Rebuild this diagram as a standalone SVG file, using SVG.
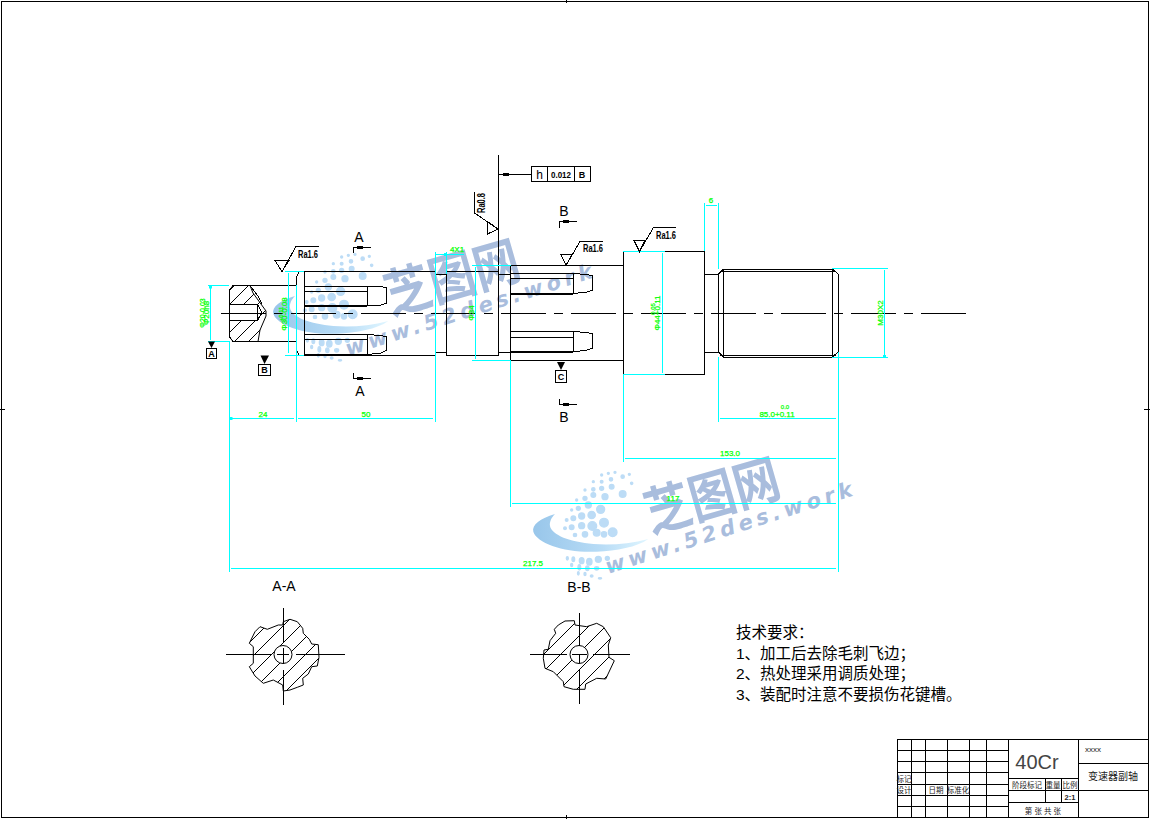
<svg xmlns="http://www.w3.org/2000/svg" width="1150" height="819" viewBox="0 0 1150 819">
<style>
.k{fill:none;stroke:#000;stroke-width:1;shape-rendering:crispEdges}
.t{fill:none;stroke:#000;stroke-width:2;shape-rendering:crispEdges}
.c{fill:none;stroke:#00ffff;stroke-width:1;shape-rendering:crispEdges}
.d{fill:none;stroke:#00ffff;stroke-width:1;shape-rendering:crispEdges;marker-start:url(#tick);marker-end:url(#tick)}
.f{fill:#000;stroke:none}
text{font-family:"Liberation Sans","Noto Sans CJK SC",sans-serif}
.g{fill:#00ff00;font-size:8px;text-anchor:middle;stroke:#00ff00;stroke-width:.25}
.ra{fill:#000;font-size:10px;font-weight:bold}
.s{fill:#000;font-size:14px;text-anchor:middle}
.b{fill:#000;font-size:9px;font-weight:bold;text-anchor:middle}
.cn{fill:#000;font-size:15.5px;font-family:"Noto Sans CJK SC","Liberation Sans",sans-serif}
.tb{fill:#222;font-size:7.5px;text-anchor:middle;font-family:"Noto Sans CJK SC","Liberation Sans",sans-serif}
.wm{fill:#a9bddd;font-family:"Noto Sans CJK SC",sans-serif;font-weight:bold;font-size:46px}
.wu{fill:#a9bddd;font-family:"DejaVu Sans",sans-serif;font-weight:bold;font-size:21px;font-style:italic}
</style>
<defs>
<marker id="tick" markerUnits="userSpaceOnUse" markerWidth="3" markerHeight="3" refX="1.5" refY="1.5"><rect width="3" height="3" fill="#00ffff"/></marker>
<pattern id="h1" patternUnits="userSpaceOnUse" width="14" height="14" patternTransform="translate(2 0)"><path d="M-1 15L15 -1M-8 8L8 -8M6 22L22 6" stroke="#000" stroke-width="1" fill="none" shape-rendering="crispEdges"/></pattern>
<pattern id="h2" patternUnits="userSpaceOnUse" width="17" height="17" patternTransform="translate(8 0)"><path d="M-1 18L18 -1M-8 8L8 -8M9 25L25 9" stroke="#000" stroke-width="1" fill="none" shape-rendering="crispEdges"/></pattern>
<linearGradient id="sw" x1="0" x2="1" y1="0" y2="0"><stop offset="0" stop-color="#98c6ea"/><stop offset=".6" stop-color="#b8dcf6"/><stop offset="1" stop-color="#e0f6ff"/></linearGradient>
<g id="logo" transform="translate(530 440) scale(.3333)">
<path d="M75 222C30 235 5 255 10 275C20 310 110 340 200 335C260 332 320 322 355 297C300 312 240 316 190 312C120 306 65 285 60 258C58 245 65 232 75 222Z" fill="url(#sw)"/>
<g fill="#bcdcf6" stroke="#bcdcf6" stroke-width="4">
<circle cx="215" cy="105" r="3"/><circle cx="235" cy="100" r="3"/><circle cx="255" cy="97" r="3"/><circle cx="278" cy="110" r="5"/><circle cx="298" cy="103" r="3"/><circle cx="305" cy="130" r="3.5"/>
<circle cx="190" cy="125" r="3"/><circle cx="215" cy="125" r="4"/><circle cx="243" cy="118" r="5"/><circle cx="165" cy="150" r="3"/><circle cx="190" cy="148" r="5"/><circle cx="215" cy="145" r="6"/><circle cx="245" cy="140" r="7"/><circle cx="278" cy="162" r="10"/>
<circle cx="140" cy="180" r="3"/><circle cx="165" cy="175" r="6"/><circle cx="190" cy="165" r="7"/><circle cx="225" cy="170" r="9"/><circle cx="125" cy="210" r="3"/><circle cx="145" cy="205" r="6"/><circle cx="175" cy="195" r="9"/><circle cx="212" cy="208" r="12"/>
<circle cx="110" cy="240" r="4"/><circle cx="130" cy="235" r="7"/><circle cx="155" cy="228" r="9"/><circle cx="185" cy="225" r="11"/><circle cx="222" cy="248" r="13"/>
<circle cx="105" cy="265" r="4"/><circle cx="125" cy="262" r="7"/><circle cx="155" cy="257" r="9"/><circle cx="187" cy="258" r="13"/><circle cx="248" cy="277" r="13"/><circle cx="135" cy="285" r="5"/><circle cx="165" cy="283" r="8"/><circle cx="200" cy="278" r="10"/><circle cx="222" cy="283" r="8"/>
<ellipse cx="112" cy="355" rx="3" ry="5"/><ellipse cx="130" cy="358" rx="4" ry="7"/><ellipse cx="155" cy="362" rx="7" ry="9"/><ellipse cx="178" cy="365" rx="8" ry="10"/><circle cx="205" cy="358" r="9"/><circle cx="232" cy="355" r="6"/>
<ellipse cx="125" cy="375" rx="3" ry="5"/><ellipse cx="148" cy="382" rx="4" ry="8"/><ellipse cx="172" cy="385" rx="5" ry="7"/><ellipse cx="200" cy="385" rx="6" ry="5"/>
<ellipse cx="145" cy="400" rx="2.5" ry="5"/><ellipse cx="165" cy="402" rx="3" ry="5"/><ellipse cx="185" cy="408" rx="4" ry="3"/><ellipse cx="210" cy="415" rx="5" ry="2"/>
</g></g>
</defs>
<rect width="1150" height="819" fill="#fff"/>
<g id="watermark-2">
<use href="#logo"/>
<text class="wm" transform="translate(651 533) rotate(-16) scale(1 1.15)">芝图网</text>
<text class="wu" transform="translate(608 574) rotate(-17.7)" textLength="258" lengthAdjust="spacing">www.52des.work</text>
</g>
<g id="watermark-1">
<use href="#logo" transform="translate(-260 -218)"/>
<text class="wm" transform="translate(391 315) rotate(-16) scale(1 1.15)">芝图网</text>
<text class="wu" transform="translate(348 356) rotate(-17.7)" textLength="258" lengthAdjust="spacing">www.52des.work</text>
</g>
<g id="frame" class="k">
<rect x="1" y="1" width="1147" height="816"/>
<path d="M566 0V3M566 815V819M0 409H5M1144 409H1150"/>
</g>
<g id="shaft">
<path class="k" d="M229.5 290L233 285.5H296M229.5 290V337L233 341.5H296M296.5 285V277L299 271.5H304.5M296.5 341V350L299 355.5H304.5"/>
<polygon points="229.5,290 233,285.5 250,285.5 253,293 266,311 266,316 260,330 258,341.5 233,341.5 229.5,337" fill="url(#h1)" stroke="#000" stroke-width="1"/>
<rect x="229.5" y="304.5" width="28" height="16" fill="#fff" stroke="#000"/>
<path class="k" d="M257.5 304.5L262 313L257.5 320.5M250 285.5L258 296L262 304"/>
<path class="k" d="M304.5 271.5V355.5M304.5 271.5H435.5M304.5 355.5H435.5M435.5 274.5H446.5M435.5 352.5H446.5"/>
<rect class="k" x="446.5" y="271.5" width="52" height="84"/>
<path class="k" d="M498.5 155V271M498.5 274.5H510.5M498.5 352.5H510.5M510.5 265.5V360.5M510.5 265.5H623.5M510.5 360.5H623.5"/>
<path class="k" d="M623.5 251.5V374.5M623.5 251.5H704.5V374.5H623.5M704.5 274.5H718.5V352.5H704.5"/>
<path class="k" d="M718.5 274L723.5 269H832.5L838 274V352L832.5 357H723.5L718.5 352M723.5 269V357M832.5 269V357M720 271H836M720 355H836M838 274V352"/>
<path class="k" d="M304.5 286H367L381 286.5L386.5 288V303L381 305L367 306M304.5 291H367M367 286V306"/>
<path class="t" d="M304.5 306H367"/>
<path class="k" d="M304.5 334.5H367L381 335.5L386.5 337V350L381 353L367 354.5M304.5 339.5H367M367 334.5V354.5"/>
<path class="t" d="M304.5 354.5H367"/>
<path class="k" d="M510.5 273.5H573L587 274.5L592.5 276V290L587 292L573 293.5M510.5 278.5H573M573 273.5V293.5"/>
<path class="t" d="M510.5 293.5H573"/>
<path class="k" d="M510.5 331.5H573L587 332.5L592.5 334V348L587 350L573 352M510.5 337.5H573M573 331.5V352"/>
<path class="t" d="M510.5 352H573"/>
<path d="M221 313.5H966" stroke="#000" stroke-width="1" stroke-dasharray="45 8 9 8" fill="none" shape-rendering="crispEdges"/>
</g>
<g id="dimensions">
<path class="c" d="M229.5 341V572M296.5 285V422M435.5 252V422M446.5 252V274M510.5 360V507M623.5 374V462M718.5 357V422M838 352V572"/>
<path class="c" d="M704.5 203V251M718.5 203V269M208 285.5H229M208 341.5H229M285 271.5H304M285 355.5H304M435 254.5H464M472 265.5H511M472 360.5H511M623 251.5H665M623 374.5H665M832 268.5H888M832 357.5H888"/>
<path class="d" d="M231 418.5H294M298 418.5H433M720 418.5H836M625 458.5H836M512 503.5H836M231 568.5H836M706 205.5H717M437 254.5H445"/>
<path class="d" d="M210.5 287V340M288.5 273V353M475.5 267V359M662.5 253V373M884.5 270V356"/>
<g class="g">
<text x="263" y="417">24</text><text x="366" y="417">50</text>
<text x="777" y="417">85.0+0.11</text><text x="785" y="409" style="font-size:6px">0.0</text>
<text x="730" y="456">153.0</text><text x="673" y="501">117</text><text x="533" y="566">217.5</text>
<text x="711" y="203">6</text><text x="457" y="252">4X1</text>
<text transform="translate(209 313) rotate(-90)">Φ20h8</text><text transform="translate(205 313) rotate(-90)" style="font-size:7px">Φ20-0.03</text>
<text transform="translate(287 314) rotate(-90)">Φ30-0.08</text><text transform="translate(283 314) rotate(-90)" style="font-size:6px">+0.11</text>
<text transform="translate(474 313) rotate(-90)">Φ34</text>
<text transform="translate(660 313) rotate(-90)">Φ44+0.11</text><text transform="translate(655 309) rotate(-90)" style="font-size:6px">0.05</text>
<text transform="translate(883 313) rotate(-90)">M30X2</text>
</g>
</g>
<g id="roughness">
<path class="k" d="M275 260.5H289L282 271.5ZM282 271.5L296 246.5H319"/>
<text class="ra" x="298" y="258" textLength="20" lengthAdjust="spacingAndGlyphs">Ra1.6</text>
<path class="k" d="M561 254.5H572L566 265.5ZM566 265.5L580 241.5H603"/>
<text class="ra" x="583" y="252" textLength="20" lengthAdjust="spacingAndGlyphs">Ra1.6</text>
<path class="k" d="M634 240.5H645L639.5 251.5ZM639.5 251.5L653.5 227.5H676"/>
<text class="ra" x="656" y="239" textLength="20" lengthAdjust="spacingAndGlyphs">Ra1.6</text>
<path class="k" d="M487.5 221.5L498 229L487.5 234ZM498 229L474.5 213V192"/>
<text class="ra" transform="translate(485 213) rotate(-90)" textLength="20" lengthAdjust="spacingAndGlyphs">Ra0.8</text>
</g>
<g id="tolerance">
<rect class="k" x="531.5" y="166.5" width="59" height="15"/>
<path class="k" d="M547.5 166.5V181.5M574.5 166.5V181.5M499 174.5H531.5"/>
<path class="f" d="M503 173H509V176H503Z"/>
<text x="539.5" y="178.5" fill="#000" font-size="12" text-anchor="middle">h</text>
<text class="b" x="561" y="178" textLength="20" lengthAdjust="spacingAndGlyphs">0.012</text>
<text class="b" x="582" y="178">B</text>
</g>
<g id="datums">
<path class="f" d="M208 341.5H215L211.5 348ZM260.5 355.5H269L264.5 364ZM557 362H565L561 370Z"/>
<rect class="k" x="206.5" y="348.5" width="10" height="10"/><text class="b" x="211.5" y="357">A</text>
<rect class="k" x="258.5" y="364.5" width="12" height="11"/><text class="b" x="264.5" y="373">B</text>
<rect class="k" x="555.5" y="370.5" width="11" height="12"/><text class="b" x="561" y="380">C</text>
</g>
<g id="section-marks">
<path class="k" d="M353.5 253V247.5H371M353.5 373V378.5H371M559.5 228V221.5H577M559.5 399V404.5H577"/>
<path class="f" d="M357 246H363V249H357ZM357 377H363V380H357ZM563 220H569V223H563ZM563 403H569V406H563Z"/>
<text class="s" x="359" y="242">A</text><text class="s" x="360" y="396">A</text>
<text class="s" x="564" y="216">B</text><text class="s" x="564" y="422">B</text>
<text class="s" x="284" y="591">A-A</text><text class="s" x="579" y="592">B-B</text>
</g>
<g id="section-a">
<polygon points="283.3,621.7 290,619.3 297.3,621.7 302.7,628.3 303.3,633.3 309.3,639.3 311.7,644 318.3,644.7 319,657.3 317.3,666 311.7,666.7 308.3,674 302.7,678.3 303.3,685 297.3,687.3 290,690 283.3,691 282.7,685 273.3,680 263.3,683.3 255,676 249.3,666.7 253.3,663.3 253.3,646.7 249.3,643.3 255,631.7 260,626.7 267.3,629.3 278.3,625 282.7,625" fill="url(#h2)" stroke="#000"/>
<circle cx="283" cy="654.5" r="9" fill="#fff" stroke="#000"/>
<path class="k" d="M226 654.5H272M277 654.5H289M296 654.5H345M283.5 607.5V643M283.5 648V664M283.5 670V705"/>
</g>
<g id="section-b">
<polygon points="574.3,620.7 565,621 558.3,625 554.3,629.3 555.7,633.3 550,640.7 548.3,649.3 544,650 543.3,658.3 545,668.3 553.3,671.7 563.3,681.7 564,686.7 573.3,689.3 585,689.3 585.7,684 596.7,678.3 605.7,679 614.3,660.7 609,657.3 608.3,645 610.7,637.7 603.3,626.7 596.7,623.3 586.7,626.7 575,625" fill="url(#h2)" stroke="#000"/>
<circle cx="579" cy="654.5" r="9" fill="#fff" stroke="#000"/>
<path class="k" d="M530 654.5H567M572 654.5H587M593 654.5H630M579.5 613V646M579.5 654.5V663M579.5 669V704"/>
</g>
<g id="notes" class="cn">
<text x="736" y="638">技术要求：</text>
<text x="736" y="659">1、加工后去除毛刺飞边；</text>
<text x="736" y="679">2、热处理采用调质处理；</text>
<text x="736" y="700">3、装配时注意不要损伤花键槽。</text>
</g>
<g id="title-block">
<path class="k" d="M897.5 739H1148M897.5 739V817M911.5 739V817M925.5 739V817M947.5 739V817M969.5 739V817M986.5 739V817M1008.5 739V817M1078.5 739V817"/>
<path class="k" d="M897.5 750.5H1008.5M897.5 761.5H1008.5M897.5 772.5H1008.5M897.5 784.5H1008.5M897.5 795.5H1008.5M897.5 806.5H1008.5"/>
<path class="k" d="M1008.5 778.5H1078.5M1008.5 790H1148M1008.5 802.5H1078.5M1045.5 778.5V802.5M1061.5 778.5V802.5M1078.5 763.5H1148"/>
<text x="1037" y="769" fill="#444" font-size="20" text-anchor="middle">40Cr</text>
<text x="1085" y="752" fill="#222" font-size="8" font-family="Liberation Mono">xxxx</text>
<text class="tb" x="1113" y="780" style="font-size:10px">变速器副轴</text>
<g class="tb">
<text x="1027" y="788">阶段标记</text><text x="1053" y="788">重量</text><text x="1070" y="788">比例</text>
<text x="904" y="782">标记</text><text x="904" y="793">设计</text><text x="936" y="793">日期</text><text x="958" y="793">标准化</text>
<text x="1043" y="814">第 张 共 张</text><text x="1070" y="800" style="font-weight:bold">2:1</text>
</g>
</g>
</svg>
